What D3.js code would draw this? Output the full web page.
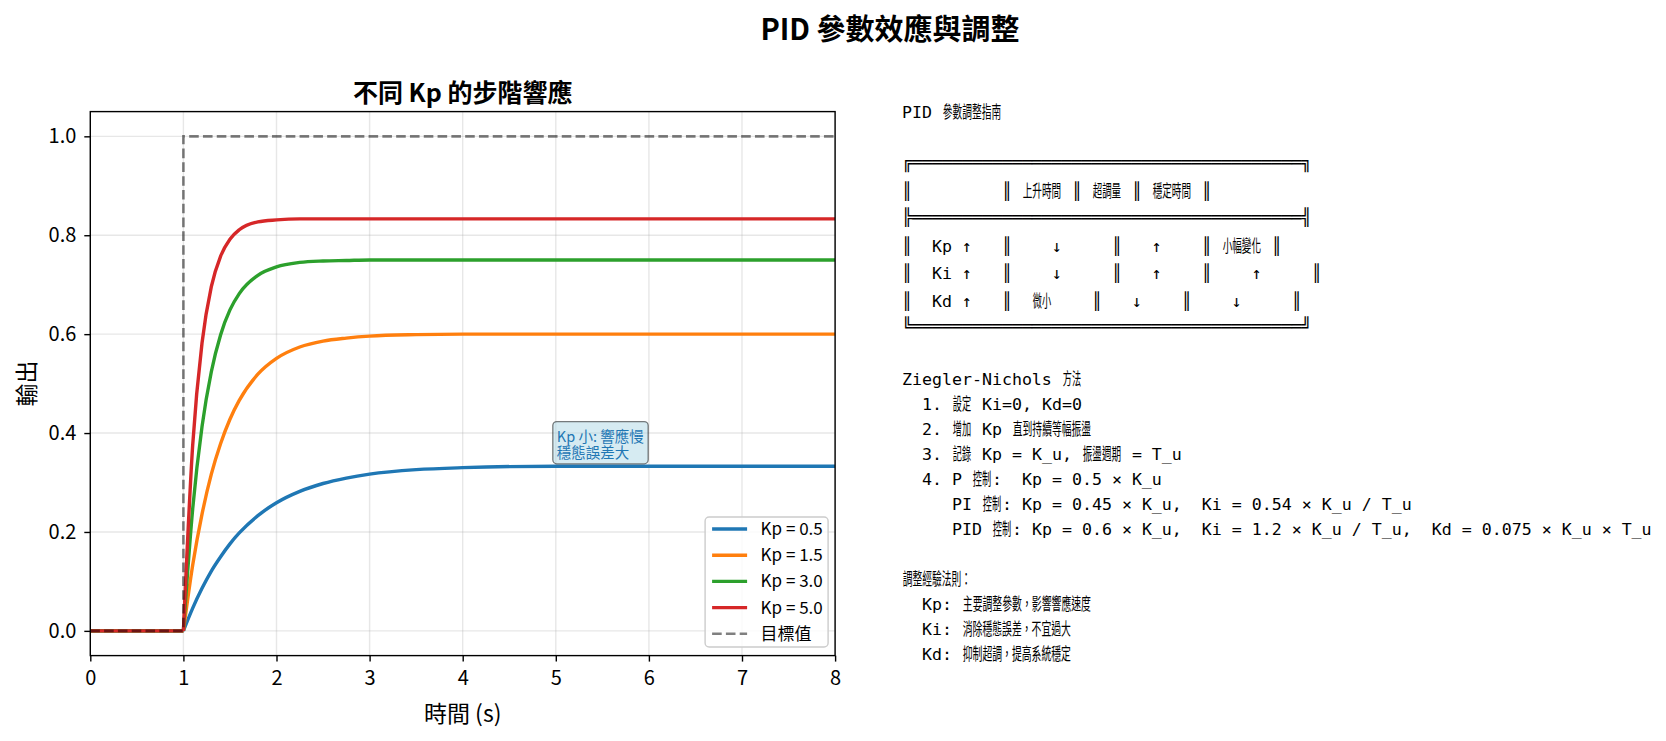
<!DOCTYPE html>
<html><head><meta charset="utf-8">
<script src="https://cdn.jsdelivr.net/npm/d3@7"></script>
<style>body{margin:0;background:#fff}svg{display:block}</style>
</head><body>
<svg id="chart" width="1666" height="741"></svg>
<script>
// ---------- data ----------
const seriesLabels = ["Kp = 0.5", "Kp = 1.5", "Kp = 3.0", "Kp = 5.0"];
const seriesColors = ["#1f77b4", "#ff7f0e", "#2ca02c", "#d62728"];
const timePoints = [0, 1, 1.1, 1.2, 1.3, 1.4, 1.5, 1.6, 1.8, 2.0, 2.25, 2.5, 2.75, 3.0, 3.5, 4.0, 5.0, 6.0, 7.0, 8.0];
const kp05 = [0, 0, 0.046, 0.086, 0.121, 0.150, 0.176, 0.198, 0.233, 0.259, 0.282, 0.298, 0.309, 0.317, 0.326, 0.330, 0.333, 0.333, 0.333, 0.333];
const kp15 = [0, 0, 0.133, 0.236, 0.317, 0.379, 0.428, 0.466, 0.519, 0.551, 0.574, 0.586, 0.592, 0.596, 0.599, 0.600, 0.600, 0.600, 0.600, 0.600];
const kp30 = [0, 0, 0.247, 0.413, 0.524, 0.599, 0.649, 0.682, 0.719, 0.736, 0.745, 0.748, 0.749, 0.750, 0.750, 0.750, 0.750, 0.750, 0.750, 0.750];
const kp50 = [0, 0, 0.376, 0.582, 0.696, 0.758, 0.792, 0.811, 0.827, 0.831, 0.833, 0.833, 0.833, 0.833, 0.833, 0.833, 0.833, 0.833, 0.833, 0.833];
const targetTime = [0, 1, 1, 8];
const targetValue = [0, 0, 1, 1];
const targetLabel = "目標值";
const xTicks = [0, 1, 2, 3, 4, 5, 6, 7, 8];
const yTicks = [0, 0.2, 0.4, 0.6, 0.8, 1.0];
const suptitle = "PID 參數效應與調整";
const axTitle = "不同 Kp 的步階響應";
const xLabel = "時間 (s)";
const yLabel = "輸出";
const noteLines = ["Kp 小: 響應慢", "穩態誤差大"];
const noteAt = [5, 0.35];
const infoLines = [
  "PID 參數調整指南",
  "",
  "╔═══════════════════════════════════════╗",
  "║         ║ 上升時間 ║ 超調量 ║ 穩定時間 ║",
  "╠═══════════════════════════════════════╣",
  "║  Kp ↑   ║    ↓     ║   ↑    ║ 小幅變化 ║",
  "║  Ki ↑   ║    ↓     ║   ↑    ║    ↑     ║",
  "║  Kd ↑   ║  微小    ║   ↓    ║    ↓     ║",
  "╚═══════════════════════════════════════╝",
  "",
  "Ziegler-Nichols 方法",
  "  1. 設定 Ki=0, Kd=0",
  "  2. 增加 Kp 直到持續等幅振盪",
  "  3. 記錄 Kp = K_u, 振盪週期 = T_u",
  "  4. P 控制:  Kp = 0.5 × K_u",
  "     PI 控制: Kp = 0.45 × K_u,  Ki = 0.54 × K_u / T_u",
  "     PID 控制: Kp = 0.6 × K_u,  Ki = 1.2 × K_u / T_u,  Kd = 0.075 × K_u × T_u",
  "",
  "調整經驗法則：",
  "  Kp: 主要調整參數，影響響應速度",
  "  Ki: 消除穩態誤差，不宜過大",
  "  Kd: 抑制超調，提高系統穩定"
];

// ---------- layout ----------
const CJK = "'Noto Sans CJK TC','Noto Sans CJK SC',sans-serif";
const MONO = "'DejaVu Sans Mono',monospace";
const svg = d3.select("#chart");
const L = 90.3, R = 835.1, T = 111.6, B = 655.6;
const x = d3.scaleLinear().domain([0, 8]).range([L, R]);
const y = d3.scaleLinear().domain([-0.05, 1.05]).range([B, T]);

svg.append("rect").attr("width", 1666).attr("height", 741).attr("fill", "#fff");

// suptitle
svg.append("text").attr("x", 890).attr("y", 39.5).attr("text-anchor", "middle")
  .attr("font-family", CJK).attr("font-weight", "bold").attr("font-size", 29)
  .text(suptitle);
// axes title
svg.append("text").attr("x", (L + R) / 2).attr("y", 101.5).attr("text-anchor", "middle")
  .attr("font-family", CJK).attr("font-weight", "bold").attr("font-size", 25)
  .text(axTitle);

// grid
const grid = svg.append("g").attr("stroke", "#b0b0b0").attr("stroke-opacity", 0.3).attr("stroke-width", 1.4);
grid.selectAll(".gx").data(xTicks).join("line")
  .attr("x1", d => x(d)).attr("x2", d => x(d)).attr("y1", T).attr("y2", B);
grid.selectAll(".gy").data(yTicks).join("line")
  .attr("y1", d => y(d)).attr("y2", d => y(d)).attr("x1", L).attr("x2", R);

// clip
svg.append("clipPath").attr("id", "clip").append("rect")
  .attr("x", L).attr("y", T).attr("width", R - L).attr("height", B - T);
const plot = svg.append("g").attr("clip-path", "url(#clip)");

const allSeries = [kp05, kp15, kp30, kp50];
const lineLin = d3.line().x(d => x(d[0])).y(d => y(d[1])).curve(d3.curveLinear);
const lineMono = d3.line().x(d => x(d[0])).y(d => y(d[1])).curve(d3.curveMonotoneX);
allSeries.forEach((vals, i) => {
  const pts = timePoints.map((t, k) => [t, vals[k]]);
  const d = lineLin(pts.slice(0, 2)) + lineMono(pts.slice(1));
  plot.append("path").attr("d", d).attr("fill", "none")
    .attr("stroke", seriesColors[i]).attr("stroke-width", 3.4)
    .attr("stroke-linejoin", "round");
});
plot.append("path")
  .attr("d", lineLin(targetTime.map((t, k) => [t, targetValue[k]])))
  .attr("fill", "none").attr("stroke", "#000").attr("stroke-opacity", 0.5)
  .attr("stroke-width", 2.6).attr("stroke-dasharray", "9.6,4.2");

// axes
const tickFs = 20;
const xAxis = svg.append("g").attr("transform", `translate(0,${B})`)
  .call(d3.axisBottom(x).tickValues(xTicks).tickFormat(d3.format("d")).tickSize(6).tickPadding(6));
const yAxis = svg.append("g").attr("transform", `translate(${L},0)`)
  .call(d3.axisLeft(y).tickValues(yTicks).tickFormat(d3.format(".1f")).tickSize(6).tickPadding(8));
[xAxis, yAxis].forEach(g => {
  g.selectAll("text").attr("font-family", CJK).attr("font-size", tickFs).attr("fill", "#000");
  g.selectAll("line").attr("stroke", "#000").attr("stroke-width", 1.4);
  g.select(".domain").remove();
});
xAxis.selectAll("text").attr("dy", "0.86em");
svg.append("rect").attr("x", L).attr("y", T).attr("width", R - L).attr("height", B - T)
  .attr("fill", "none").attr("stroke", "#000").attr("stroke-width", 1.4);

// axis labels
svg.append("text").attr("x", (L + R) / 2).attr("y", 722).attr("text-anchor", "middle")
  .attr("font-family", CJK).attr("font-size", 23).text(xLabel);
svg.append("text").attr("transform", `translate(35,${(T + B) / 2}) rotate(-90)`)
  .attr("text-anchor", "middle").attr("font-family", CJK).attr("font-size", 23).text(yLabel);

// annotation
const noteFs = 14.5;
const note = svg.append("g");
const noteText = note.append("text").attr("font-family", CJK).attr("font-size", noteFs).attr("fill", "#1f77b4");
noteLines.forEach((s, i) => {
  noteText.append("tspan").attr("x", x(noteAt[0]) + 1)
    .attr("y", y(noteAt[1]) - (noteLines.length - 1 - i) * noteFs * 1.12).text(s);
});
const nb = noteText.node().getBBox();
note.insert("rect", "text").attr("x", nb.x - 4).attr("y", nb.y - 3)
  .attr("width", nb.width + 8).attr("height", nb.height + 5).attr("rx", 4)
  .attr("fill", "#add8e6").attr("fill-opacity", 0.5)
  .attr("stroke", "#000").attr("stroke-opacity", 0.5).attr("stroke-width", 1.3);

// legend
const lfs = 17;
const legItems = seriesLabels.map((s, i) => ({label: s, color: seriesColors[i], dash: null}))
  .concat([{label: targetLabel, color: "#000", opacity: 0.5, dash: "9.6,4.2", w: 2.6}]);
const leg = svg.append("g");
const pitch = 26.2;
const legW = 123, legH = 130;
const lx = R - 7 - legW, ly = B - 8.6 - legH;
leg.append("rect").attr("x", lx).attr("y", ly).attr("width", legW).attr("height", legH)
  .attr("rx", 4).attr("fill", "#fff").attr("fill-opacity", 0.8)
  .attr("stroke", "#cccccc").attr("stroke-width", 1.4);
legItems.forEach((it, i) => {
  const cy = ly + 12 + i * pitch;
  leg.append("line").attr("x1", lx + 7).attr("x2", lx + 42).attr("y1", cy).attr("y2", cy)
    .attr("stroke", it.color).attr("stroke-opacity", it.opacity || 1)
    .attr("stroke-width", it.w || 3.4).attr("stroke-dasharray", it.dash);
  leg.append("text").attr("x", lx + 55.5).attr("y", cy + 6).attr("font-family", CJK)
    .attr("font-size", lfs).text(it.label);
});

// info text block (monospace, laid out on a character grid)
const mfs = 16.6, cw = mfs * 0.6021;
const info = svg.append("g").attr("font-family", MONO).attr("font-size", mfs).attr("fill", "#000");
const isWide = ch => /[\u2E80-\u9FFF\uF900-\uFAFF\uFF00-\uFFEF\u3000-\u303F]/.test(ch);
const isBox = s => /[\u2500-\u257F]/.test(s);
let base = 117.7;
infoLines.forEach((line, li) => {
  if (li > 0) base += 25.0 + (isBox(infoLines[li - 1]) ? 2.4 : 0);
  const rowShift = /║/.test(line) ? 2 : 0;
  const chars = Array.from(line);
  let runs = [], cur = null;
  chars.forEach((ch, ci) => {
    if (ch === " ") { cur = null; return; }
    const w = isWide(ch);
    if (!cur || cur.wide !== w) { cur = {wide: w, start: ci, text: ""}; runs.push(cur); }
    cur.text += ch;
  });
  runs.forEach(r => {
    const n = Array.from(r.text).length;
    const px = 902 + r.start * cw, py = base + rowShift;
    if (!r.wide) {
      info.append("text").attr("x", px).attr("y", py).text(r.text);
    } else {
      // wide glyphs squeezed into one monospace column each (as in the reference)
      const t = info.append("text").attr("x", 0).attr("y", 0).attr("font-family", CJK).text(r.text);
      const natural = t.node().getComputedTextLength();
      const sx = (n * cw - 1.6) / natural;
      t.attr("transform", `translate(${px + 0.8},${py}) scale(${sx},1)`);
    }
  });
});
</script>
</body></html>
